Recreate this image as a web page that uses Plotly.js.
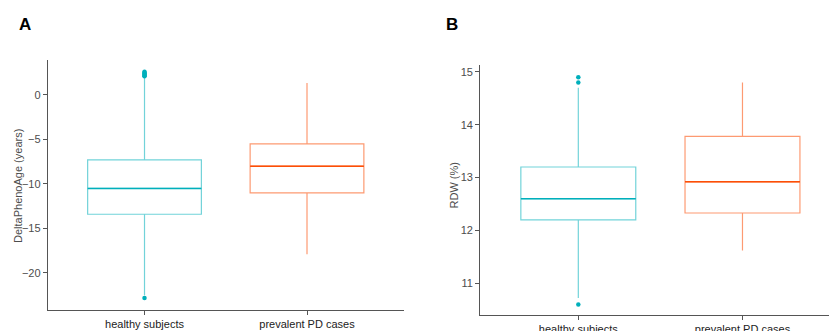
<!DOCTYPE html>
<html>
<head>
<meta charset="utf-8">
<script src="https://cdn.plot.ly/plotly-3.0.1.min.js"></script>
<style>html,body{margin:0;padding:0;background:#fff;}#chart{width:829px;height:331px;}</style>
</head>
<body>
<div id="chart"></div>
<script>
// ---- data ----
const groups = ["healthy subjects", "prevalent PD cases"];
// Panel A: DeltaPhenoAge (years)
const phenoQ1 = [-13.4, -11.0];
const phenoMedian = [-10.5, -8.0];
const phenoQ3 = [-7.3, -5.5];
const phenoLower = [-22.5, -17.9];
const phenoUpper = [2.0, 1.35];
const phenoOutHealthy = [2.1, 2.2, 2.3, 2.4, 2.5, 2.6, -22.8];
const phenoOutPD = [];
// Panel B: RDW (%)
const rdwQ1 = [12.2, 12.33];
const rdwMedian = [12.6, 12.92];
const rdwQ3 = [13.2, 13.78];
const rdwLower = [10.72, 11.62];
const rdwUpper = [14.7, 14.8];
const rdwOutHealthy = [14.9, 14.8, 10.6];
const rdwOutPD = [];

const panelTitles = ["DeltaPhenoAge (years)", "RDW (%)"];
const panelLetters = ["A", "B"];

const boxColors = ["#72d3d9", "#fd9a72"];
const medColors = ["#00AFBB", "#FC4E07"];

const traces = [];
function addPanel(xa, ya, q1, med, q3, lo, hi, outs) {
  groups.forEach((g, i) => {
    traces.push({
      type: "box", x: [g], q1: [q1[i]], median: [med[i]], q3: [q3[i]],
      lowerfence: [lo[i]], upperfence: [hi[i]], width: 0.7,
      xaxis: xa, yaxis: ya, showlegend: false, hoverinfo: "skip",
      fillcolor: "rgba(255,255,255,0)", line: {color: boxColors[i], width: 1.2},
      whiskerwidth: 0, boxpoints: false
    });
    traces.push({
      type: "box", x: [g], q1: [med[i]], median: [med[i]], q3: [med[i]],
      lowerfence: [med[i]], upperfence: [med[i]], width: 0.7,
      xaxis: xa, yaxis: ya, showlegend: false, hoverinfo: "skip",
      fillcolor: "rgba(255,255,255,0)", line: {color: medColors[i], width: 1.5},
      whiskerwidth: 0, boxpoints: false
    });
    if (outs[i].length) {
      traces.push({
        type: "scatter", mode: "markers", x: outs[i].map(() => g), y: outs[i],
        xaxis: xa, yaxis: ya, showlegend: false, hoverinfo: "skip",
        marker: {color: medColors[i], size: 4.5}
      });
    }
  });
}
addPanel("x", "y", phenoQ1, phenoMedian, phenoQ3, phenoLower, phenoUpper, [phenoOutHealthy, phenoOutPD]);
addPanel("x2", "y2", rdwQ1, rdwMedian, rdwQ3, rdwLower, rdwUpper, [rdwOutHealthy, rdwOutPD]);

const W = 829, H = 331;
const FONT = "Liberation Sans, Arial, sans-serif";
const tickFont = {family: FONT, size: 11, color: "#4d4d4d"};
const xTickFont = {family: FONT, size: 11, color: "#222"};
const axisCommon = {
  showgrid: false, zeroline: false, showline: true, linecolor: "#555", linewidth: 1.2,
  ticks: "outside", ticklen: 4, tickcolor: "#555", tickwidth: 1, automargin: false
};

const layout = {
  width: W, height: H, margin: {l: 0, r: 0, t: 0, b: 0},
  paper_bgcolor: "#fff", plot_bgcolor: "#fff",
  showlegend: false,
  xaxis: Object.assign({}, axisCommon, {
    type: "category", categoryarray: groups, domain: [48 / W, 404 / W],
    range: [-0.594, 1.597], anchor: "y", tickfont: xTickFont
  }),
  yaxis: Object.assign({}, axisCommon, {
    domain: [1 - 310 / H, 1 - 60 / H], range: [-24.16, 3.93], anchor: "x",
    tickvals: [-20, -15, -10, -5, 0], tickfont: tickFont
  }),
  xaxis2: Object.assign({}, axisCommon, {
    type: "category", categoryarray: groups, domain: [480.3 / W, 1],
    range: [-0.597, 1.527], anchor: "y2", tickfont: xTickFont
  }),
  yaxis2: Object.assign({}, axisCommon, {
    domain: [1 - 315 / H, 1 - 65 / H], range: [10.4, 15.13], anchor: "x2",
    tickvals: [11, 12, 13, 14, 15], tickfont: tickFont
  }),
  annotations: [
    {text: "<b>" + panelLetters[0] + "</b>", xref: "paper", yref: "paper", x: 17 / W, y: 1 - 24 / H, xanchor: "left", yanchor: "middle", showarrow: false, font: {family: FONT, size: 17, color: "#000"}},
    {text: "<b>" + panelLetters[1] + "</b>", xref: "paper", yref: "paper", x: 444 / W, y: 1 - 24 / H, xanchor: "left", yanchor: "middle", showarrow: false, font: {family: FONT, size: 17, color: "#000"}},
    {text: panelTitles[0], textangle: -90, xref: "paper", yref: "paper", x: 18 / W, y: 1 - 186 / H, xanchor: "center", yanchor: "middle", showarrow: false, font: {family: FONT, size: 11, color: "#4d4d4d"}},
    {text: panelTitles[1], textangle: -90, xref: "paper", yref: "paper", x: 453.5 / W, y: 1 - 186 / H, xanchor: "center", yanchor: "middle", showarrow: false, font: {family: FONT, size: 11, color: "#4d4d4d"}}
  ]
};

Plotly.newPlot("chart", traces, layout, {displayModeBar: false, staticPlot: true});
</script>
</body>
</html>
